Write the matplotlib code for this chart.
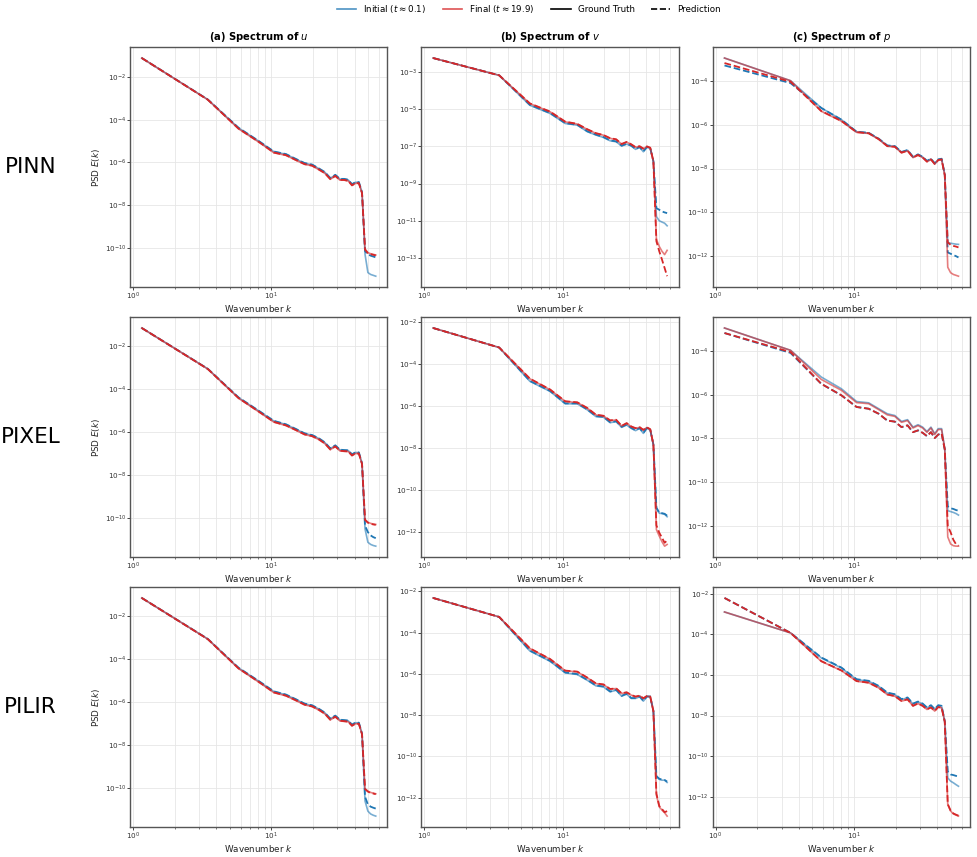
import numpy as np
import matplotlib.pyplot as plt
from matplotlib.lines import Line2D
from matplotlib.ticker import LogLocator

plt.rcParams["font.family"] = "DejaVu Sans"
plt.rcParams["mathtext.fontset"] = "dejavusans"

# wavenumber bins
k = [1.16, 3.48, 5.80, 8.12, 10.44, 12.76, 15.08, 17.40, 19.72, 22.04, 24.36, 26.68, 29.00,
     31.32, 33.64, 35.96, 38.28, 40.60, 42.92, 45.24, 47.56, 49.88, 52.20, 54.52, 56.84]

# log10 of the power spectral density
# ---- PINN ----
pinn_u_init_gt = [-1.12, -3.06, -4.39, -5.01, -5.50, -5.62, -5.85, -6.04, -6.11, -6.29, -6.46, -6.74, -6.59,
                  -6.78, -6.78, -6.82, -7.03, -6.93, -6.93, -7.40, -10.30, -11.15, -11.24, -11.28, -11.32]
pinn_u_init_pred = [-1.12, -3.06, -4.38, -5.00, -5.49, -5.61, -5.84, -6.03, -6.10, -6.28, -6.45, -6.73, -6.58,
                    -6.77, -6.77, -6.81, -7.02, -6.92, -6.92, -7.40, -10.15, -10.30, -10.36, -10.40, -10.44]
pinn_u_final_gt = [-1.12, -3.07, -4.43, -5.05, -5.55, -5.67, -5.90, -6.09, -6.16, -6.34, -6.51, -6.79, -6.64,
                   -6.83, -6.83, -6.87, -7.08, -6.98, -6.98, -7.44, -10.05, -10.22, -10.27, -10.30, -10.33]
pinn_u_final_pred = [-1.12, -3.07, -4.42, -5.04, -5.54, -5.66, -5.89, -6.08, -6.15, -6.33, -6.50, -6.78, -6.63,
                     -6.82, -6.82, -6.86, -7.07, -6.97, -6.97, -7.44, -10.08, -10.24, -10.29, -10.32, -10.35]

pinn_v_init_gt = [-2.25, -3.18, -4.79, -5.23, -5.77, -5.86, -6.21, -6.39, -6.52, -6.70, -6.75, -6.98, -6.88,
                  -6.98, -7.16, -7.05, -7.29, -7.05, -7.11, -7.80, -10.77, -11.00, -11.07, -11.13, -11.27]
pinn_v_init_pred = [-2.25, -3.18, -4.77, -5.21, -5.75, -5.84, -6.19, -6.37, -6.50, -6.68, -6.73, -6.96, -6.86,
                    -6.96, -7.14, -7.03, -7.27, -7.03, -7.09, -7.80, -10.32, -10.41, -10.50, -10.55, -10.59]
pinn_v_final_gt = [-2.25, -3.18, -4.70, -5.14, -5.68, -5.80, -6.09, -6.30, -6.40, -6.57, -6.63, -6.88, -6.77,
                   -6.90, -7.05, -7.00, -7.13, -7.01, -7.08, -7.80, -12.00, -12.38, -12.64, -12.82, -12.59]
pinn_v_final_pred = [-2.25, -3.18, -4.69, -5.13, -5.67, -5.79, -6.08, -6.29, -6.39, -6.56, -6.62, -6.87, -6.76,
                     -6.89, -7.04, -6.99, -7.12, -7.00, -7.07, -7.80, -12.10, -12.64, -13.09, -13.54, -13.98]

pinn_p_init_gt = [-2.93, -3.97, -5.22, -5.76, -6.32, -6.37, -6.64, -6.95, -6.98, -7.25, -7.16, -7.47, -7.36,
                  -7.47, -7.66, -7.56, -7.77, -7.59, -7.56, -8.27, -11.39, -11.43, -11.45, -11.47, -11.48]
pinn_p_init_pred = [-3.27, -4.08, -5.22, -5.76, -6.31, -6.36, -6.63, -6.94, -6.97, -7.24, -7.15, -7.46, -7.35,
                    -7.46, -7.65, -7.55, -7.76, -7.58, -7.55, -8.27, -11.85, -11.91, -11.97, -12.02, -12.08]
pinn_p_final_gt = [-2.93, -3.97, -5.37, -5.83, -6.34, -6.39, -6.66, -6.98, -7.01, -7.28, -7.19, -7.50, -7.39,
                   -7.50, -7.69, -7.59, -7.80, -7.62, -7.59, -8.30, -12.53, -12.78, -12.86, -12.90, -12.94]
pinn_p_final_pred = [-3.16, -4.02, -5.36, -5.82, -6.33, -6.38, -6.65, -6.97, -7.00, -7.27, -7.18, -7.49, -7.38,
                     -7.49, -7.68, -7.58, -7.79, -7.61, -7.58, -8.30, -11.39, -11.50, -11.55, -11.58, -11.62]

# ---- PIXEL ----
pixel_u_init_gt = [-1.15, -3.05, -4.39, -5.01, -5.48, -5.64, -5.86, -6.06, -6.14, -6.29, -6.48, -6.76, -6.62,
                   -6.82, -6.84, -6.85, -7.04, -6.94, -6.95, -7.45, -10.50, -11.12, -11.22, -11.27, -11.30]
pixel_u_init_pred = [-1.15, -3.05, -4.38, -5.00, -5.47, -5.63, -5.85, -6.05, -6.13, -6.28, -6.47, -6.75, -6.61,
                     -6.81, -6.83, -6.84, -7.03, -6.93, -6.94, -7.45, -10.35, -10.65, -10.80, -10.88, -10.93]
pixel_u_final_gt = [-1.15, -3.06, -4.42, -5.05, -5.53, -5.69, -5.91, -6.11, -6.19, -6.34, -6.53, -6.81, -6.67,
                    -6.87, -6.89, -6.90, -7.09, -6.99, -7.00, -7.48, -10.06, -10.19, -10.24, -10.27, -10.29]
pixel_u_final_pred = [-1.15, -3.06, -4.41, -5.04, -5.52, -5.68, -5.90, -6.10, -6.18, -6.33, -6.52, -6.80, -6.66,
                      -6.86, -6.88, -6.89, -7.08, -6.98, -6.99, -7.48, -10.08, -10.21, -10.26, -10.29, -10.31]

pixel_v_init_gt = [-2.30, -3.23, -4.84, -5.32, -5.91, -5.91, -6.20, -6.52, -6.55, -6.81, -6.76, -7.03, -6.92,
                   -7.08, -7.19, -7.08, -7.32, -7.08, -7.16, -7.85, -10.90, -11.12, -11.14, -11.17, -11.29]
pixel_v_init_pred = [-2.30, -3.23, -4.82, -5.30, -5.89, -5.89, -6.18, -6.50, -6.53, -6.79, -6.74, -7.01, -6.90,
                     -7.06, -7.17, -7.06, -7.30, -7.06, -7.14, -7.85, -10.85, -11.10, -11.12, -11.15, -11.24]
pixel_v_final_gt = [-2.30, -3.23, -4.72, -5.24, -5.80, -5.85, -6.12, -6.44, -6.49, -6.71, -6.68, -6.97, -6.84,
                    -7.00, -7.08, -7.03, -7.16, -7.04, -7.13, -7.85, -11.90, -12.21, -12.48, -12.69, -12.61]
pixel_v_final_pred = [-2.30, -3.23, -4.71, -5.23, -5.79, -5.84, -6.11, -6.43, -6.48, -6.70, -6.67, -6.96, -6.83,
                      -6.99, -7.07, -7.02, -7.15, -7.03, -7.12, -7.85, -11.70, -12.05, -12.29, -12.53, -12.42]

pixel_p_init_gt = [-2.95, -3.97, -5.19, -5.73, -6.31, -6.37, -6.64, -6.87, -6.95, -7.22, -7.14, -7.48, -7.37,
                   -7.48, -7.68, -7.48, -7.78, -7.55, -7.55, -8.47, -11.30, -11.34, -11.38, -11.43, -11.50]
pixel_p_init_pred = [-3.18, -4.09, -5.50, -6.03, -6.56, -6.64, -6.87, -7.18, -7.23, -7.48, -7.40, -7.71, -7.63,
                     -7.74, -7.89, -7.71, -7.98, -7.82, -7.77, -8.50, -11.10, -11.19, -11.22, -11.27, -11.30]
pixel_p_final_gt = [-2.95, -3.97, -5.30, -5.80, -6.36, -6.41, -6.68, -6.92, -6.99, -7.26, -7.18, -7.52, -7.41,
                    -7.52, -7.72, -7.52, -7.82, -7.59, -7.59, -8.47, -12.50, -12.82, -12.90, -12.92, -12.92]
pixel_p_final_pred = [-3.18, -4.05, -5.50, -6.03, -6.56, -6.64, -6.87, -7.18, -7.23, -7.48, -7.40, -7.71, -7.63,
                      -7.74, -7.89, -7.71, -7.98, -7.82, -7.77, -8.50, -12.00, -12.29, -12.63, -12.83, -12.90]

# ---- PILIR ----
pilir_u_init_gt = [-1.14, -3.05, -4.40, -5.02, -5.50, -5.65, -5.87, -6.07, -6.15, -6.31, -6.49, -6.77, -6.63,
                   -6.82, -6.84, -6.86, -7.05, -6.95, -6.96, -7.46, -10.60, -11.07, -11.20, -11.26, -11.30]
pilir_u_init_pred = [-1.14, -3.05, -4.39, -5.01, -5.49, -5.64, -5.86, -6.06, -6.14, -6.30, -6.48, -6.76, -6.62,
                     -6.81, -6.83, -6.85, -7.04, -6.94, -6.95, -7.46, -10.40, -10.76, -10.86, -10.91, -10.95]
pilir_u_final_gt = [-1.14, -3.06, -4.43, -5.06, -5.55, -5.70, -5.92, -6.12, -6.20, -6.36, -6.54, -6.82, -6.68,
                    -6.87, -6.89, -6.91, -7.10, -7.00, -7.01, -7.49, -10.02, -10.14, -10.20, -10.23, -10.26]
pilir_u_final_pred = [-1.14, -3.06, -4.42, -5.05, -5.54, -5.69, -5.91, -6.11, -6.19, -6.35, -6.53, -6.81, -6.67,
                      -6.86, -6.88, -6.90, -7.09, -6.99, -7.00, -7.49, -10.04, -10.16, -10.22, -10.25, -10.28]

pilir_v_init_gt = [-2.32, -3.24, -4.89, -5.39, -5.95, -6.03, -6.31, -6.58, -6.63, -6.87, -6.79, -7.08, -6.98,
                   -7.19, -7.19, -7.11, -7.32, -7.11, -7.11, -7.80, -10.98, -11.11, -11.15, -11.15, -11.26]
pilir_v_init_pred = [-2.32, -3.24, -4.87, -5.37, -5.93, -6.01, -6.29, -6.56, -6.61, -6.85, -6.77, -7.06, -6.96,
                     -7.17, -7.17, -7.09, -7.30, -7.09, -7.09, -7.80, -10.95, -11.08, -11.12, -11.14, -11.22]
pilir_v_final_gt = [-2.32, -3.24, -4.77, -5.29, -5.85, -5.90, -6.19, -6.47, -6.52, -6.74, -6.71, -6.95, -6.90,
                    -7.03, -7.11, -7.06, -7.19, -7.08, -7.11, -7.80, -11.87, -12.44, -12.60, -12.73, -12.89]
pilir_v_final_pred = [-2.32, -3.24, -4.76, -5.28, -5.84, -5.89, -6.18, -6.46, -6.51, -6.73, -6.70, -6.94, -6.89,
                      -7.02, -7.10, -7.05, -7.18, -7.07, -7.10, -7.80, -11.80, -12.40, -12.55, -12.70, -12.65]

pilir_p_init_gt = [-2.90, -3.93, -5.16, -5.66, -6.23, -6.31, -6.56, -6.89, -6.97, -7.21, -7.13, -7.43, -7.33,
                   -7.43, -7.62, -7.51, -7.70, -7.51, -7.54, -8.28, -11.07, -11.23, -11.31, -11.40, -11.48]
pilir_p_init_pred = [-2.21, -3.93, -5.14, -5.64, -6.21, -6.29, -6.54, -6.87, -6.95, -7.19, -7.11, -7.41, -7.31,
                     -7.41, -7.60, -7.49, -7.68, -7.49, -7.52, -8.28, -10.75, -10.90, -10.93, -10.97, -11.00]
pilir_p_final_gt = [-2.90, -3.93, -5.33, -5.79, -6.31, -6.39, -6.64, -6.97, -7.05, -7.29, -7.21, -7.53, -7.41,
                    -7.53, -7.70, -7.61, -7.78, -7.59, -7.62, -8.30, -12.38, -12.70, -12.84, -12.90, -12.95]
pilir_p_final_pred = [-2.21, -3.93, -5.32, -5.78, -6.30, -6.38, -6.63, -6.96, -7.04, -7.28, -7.20, -7.52, -7.40,
                      -7.52, -7.69, -7.60, -7.77, -7.58, -7.61, -8.30, -12.36, -12.68, -12.82, -12.88, -12.93]

methods = ["PINN", "PIXEL", "PILIR"]
fields = ["u", "v", "p"]
titles = ["(a) Spectrum of $u$", "(b) Spectrum of $v$", "(c) Spectrum of $p$"]

spectra = {
    ("PINN", "u"): (pinn_u_init_gt, pinn_u_init_pred, pinn_u_final_gt, pinn_u_final_pred),
    ("PINN", "v"): (pinn_v_init_gt, pinn_v_init_pred, pinn_v_final_gt, pinn_v_final_pred),
    ("PINN", "p"): (pinn_p_init_gt, pinn_p_init_pred, pinn_p_final_gt, pinn_p_final_pred),
    ("PIXEL", "u"): (pixel_u_init_gt, pixel_u_init_pred, pixel_u_final_gt, pixel_u_final_pred),
    ("PIXEL", "v"): (pixel_v_init_gt, pixel_v_init_pred, pixel_v_final_gt, pixel_v_final_pred),
    ("PIXEL", "p"): (pixel_p_init_gt, pixel_p_init_pred, pixel_p_final_gt, pixel_p_final_pred),
    ("PILIR", "u"): (pilir_u_init_gt, pilir_u_init_pred, pilir_u_final_gt, pilir_u_final_pred),
    ("PILIR", "v"): (pilir_v_init_gt, pilir_v_init_pred, pilir_v_final_gt, pilir_v_final_pred),
    ("PILIR", "p"): (pilir_p_init_gt, pilir_p_init_pred, pilir_p_final_gt, pilir_p_final_pred),
}

BLUE = "#1f77b4"
RED = "#d62728"

fig, axes = plt.subplots(3, 3, figsize=(9.78, 8.57), dpi=100)
fig.subplots_adjust(left=0.133, right=0.992, top=0.945, bottom=0.035, wspace=0.132, hspace=0.125)

for i, method in enumerate(methods):
    for j, field in enumerate(fields):
        ax = axes[i, j]
        init_gt, init_pred, final_gt, final_pred = spectra[(method, field)]
        ax.loglog(k, 10.0 ** np.array(init_gt), color=BLUE, lw=1.2, alpha=0.6)
        ax.loglog(k, 10.0 ** np.array(init_pred), color=BLUE, lw=1.3, ls="--")
        ax.loglog(k, 10.0 ** np.array(final_gt), color=RED, lw=1.2, alpha=0.6)
        ax.loglog(k, 10.0 ** np.array(final_pred), color=RED, lw=1.3, ls="--")

        ax.yaxis.set_major_locator(LogLocator(base=10, numticks=7))
        ax.grid(True, which="both", axis="x", color="#e6e6e6", lw=0.6)
        ax.grid(True, which="major", axis="y", color="#e6e6e6", lw=0.6)
        ax.set_axisbelow(True)
        ax.tick_params(which="major", length=2.0, width=0.7, pad=0.8)
        ax.tick_params(which="minor", length=1.2, width=0.5)
        ax.tick_params(which="both", labelsize=5.2, colors="#444444", labelcolor="#333333")
        for s in ax.spines.values():
            s.set_color("#555555")
            s.set_linewidth(1.0)
        ax.set_xlabel("Wavenumber $k$", fontsize=6.3, color="#222222", labelpad=0.5)
        if j == 0:
            ax.set_ylabel("PSD $E(k)$", fontsize=6.3, color="#222222", labelpad=2.0)
        if i == 0:
            ax.set_title(titles[j], fontsize=7.2, fontweight="bold", pad=5)

    pos = axes[i, 0].get_position()
    fig.text(0.031, (pos.y0 + pos.y1) / 2, method, fontsize=15.5, ha="center", va="center")

handles = [
    Line2D([], [], color=BLUE, lw=1.2, alpha=0.8),
    Line2D([], [], color=RED, lw=1.2, alpha=0.8),
    Line2D([], [], color="black", lw=1.2),
    Line2D([], [], color="black", lw=1.2, ls="--"),
]
labels = ["Initial ($t \\approx 0.1$)", "Final ($t \\approx 19.9$)", "Ground Truth", "Prediction"]
fig.legend(handles, labels, loc="upper center", bbox_to_anchor=(0.541, 1.006), ncol=4, frameon=False,
           fontsize=6.3, handlelength=2.2, handletextpad=0.8, columnspacing=1.9)

fig.savefig("out.png", dpi=100)
